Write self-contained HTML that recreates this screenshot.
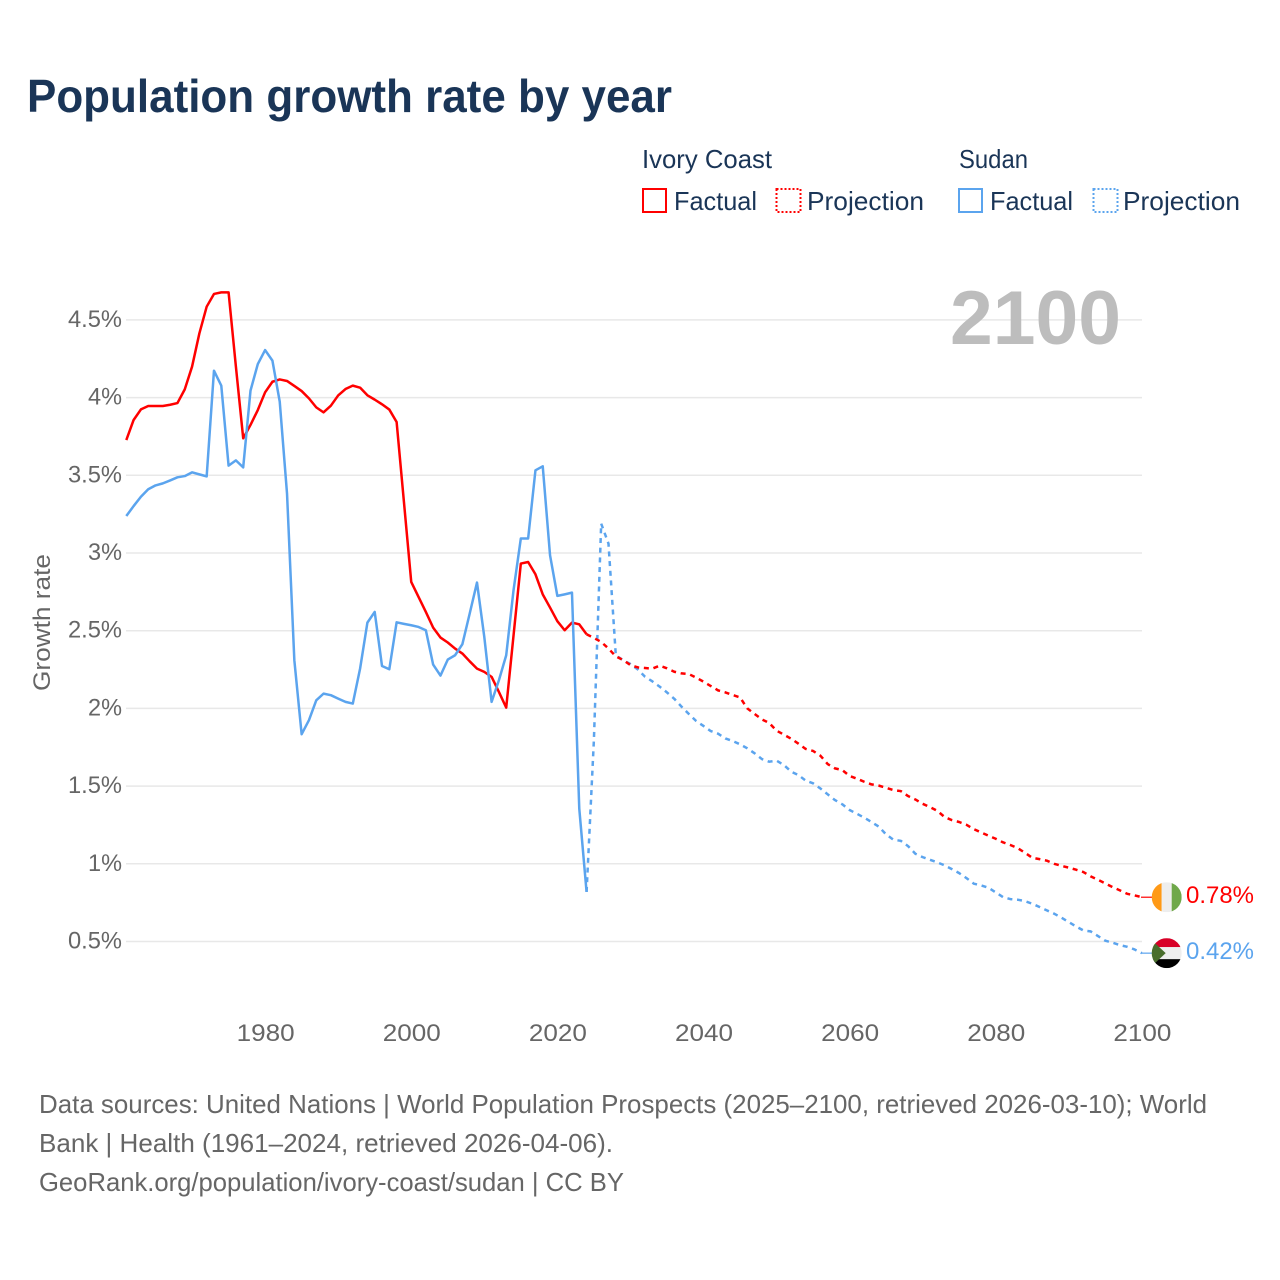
<!DOCTYPE html>
<html lang="en">
<head>
<meta charset="utf-8">
<title>Population growth rate by year</title>
<style>
html,body{margin:0;padding:0;background:#fff;}
svg{display:block;}
text{font-family:"Liberation Sans",sans-serif;}
</style>
</head>
<body>
<svg id="chart" xmlns="http://www.w3.org/2000/svg" width="1280" height="1280" viewBox="0 0 1280 1280">
  <rect width="1280" height="1280" fill="#ffffff"/>
  <text x="27" y="112" font-size="46" font-weight="700" fill="#1a3557" textLength="645" lengthAdjust="spacingAndGlyphs">Population growth rate by year</text>

  <g font-size="26" fill="#1a3557">
    <text x="642" y="168" textLength="130" lengthAdjust="spacingAndGlyphs">Ivory Coast</text>
    <text x="959" y="168" textLength="69" lengthAdjust="spacingAndGlyphs">Sudan</text>
    <g>
      <rect x="643" y="189" width="23" height="23" fill="none" stroke="#ff0000" stroke-width="2"/>
      <text x="674" y="210" textLength="83" lengthAdjust="spacingAndGlyphs">Factual</text>
    </g>
    <g>
      <rect x="776.5" y="189" width="24" height="23" fill="none" stroke="#ff0000" stroke-width="2" stroke-dasharray="2 2"/>
      <text x="807" y="210" textLength="117" lengthAdjust="spacingAndGlyphs">Projection</text>
    </g>
    <g>
      <rect x="959" y="189" width="23" height="23" fill="none" stroke="#5ba4ee" stroke-width="2"/>
      <text x="990" y="210" textLength="83" lengthAdjust="spacingAndGlyphs">Factual</text>
    </g>
    <g>
      <rect x="1093.5" y="189" width="24" height="23" fill="none" stroke="#5ba4ee" stroke-width="2" stroke-dasharray="2 2"/>
      <text x="1123" y="210" textLength="117" lengthAdjust="spacingAndGlyphs">Projection</text>
    </g>
  </g>

  <g id="grid"></g>
  <text x="950" y="344" font-size="76" font-weight="700" fill="#bdbdbd" textLength="171" lengthAdjust="spacingAndGlyphs">2100</text>
  <g id="yticks" font-size="24" fill="#666666"></g>
  <g id="xticks" font-size="24" fill="#666666"></g>
  <text transform="translate(50,622.5) rotate(-90)" text-anchor="middle" font-size="24" fill="#666666" textLength="137" lengthAdjust="spacingAndGlyphs">Growth rate</text>
  <g id="series"></g>
  <g id="endmarks"></g>

  <g font-size="26" fill="#666666">
    <text x="39" y="1113" textLength="1168" lengthAdjust="spacingAndGlyphs">Data sources: United Nations | World Population Prospects (2025–2100, retrieved 2026-03-10); World</text>
    <text x="39" y="1152" textLength="574" lengthAdjust="spacingAndGlyphs">Bank | Health (1961–2024, retrieved 2026-04-06).</text>
    <text x="39" y="1191" textLength="585" lengthAdjust="spacingAndGlyphs">GeoRank.org/population/ivory-coast/sudan | CC BY</text>
  </g>
</svg>

<script>
const xTicks = [1980, 2000, 2020, 2040, 2060, 2080, 2100];
const yTicks = [0.5, 1, 1.5, 2, 2.5, 3, 3.5, 4, 4.5];
const yTickLabels = ["0.5%", "1%", "1.5%", "2%", "2.5%", "3%", "3.5%", "4%", "4.5%"];
const firstFactualYear = 1961;
const firstProjectionYear = 2024;
const ivoryFactual = [
  3.727, 3.856, 3.924, 3.946, 3.946, 3.946, 3.954, 3.965, 4.053, 4.199,
  4.413, 4.585, 4.667, 4.677, 4.677, 4.2, 3.738, 3.824, 3.92, 4.034,
  4.102, 4.117, 4.107, 4.075, 4.042, 3.995, 3.937, 3.905, 3.948, 4.014,
  4.055, 4.077, 4.064, 4.015, 3.987, 3.957, 3.923, 3.843, 3.329, 2.814,
  2.717, 2.621, 2.52, 2.456, 2.424, 2.385, 2.353, 2.303, 2.256, 2.235,
  2.203, 2.106, 2.005, 2.468, 2.932, 2.942, 2.863, 2.734, 2.649, 2.561,
  2.503, 2.552, 2.541, 2.477
];
const sudanFactual = [
  3.238, 3.302, 3.362, 3.41, 3.435, 3.448, 3.467, 3.487, 3.495, 3.519,
  3.506, 3.493, 4.173, 4.077, 3.562, 3.596, 3.551, 4.045, 4.216, 4.306,
  4.238, 3.974, 3.382, 2.31, 1.834, 1.924, 2.052, 2.095, 2.085, 2.063,
  2.042, 2.031, 2.256, 2.552, 2.621, 2.273, 2.252, 2.554, 2.544, 2.535,
  2.524, 2.503, 2.282, 2.211, 2.314, 2.342, 2.413, 2.61, 2.81, 2.46,
  2.042, 2.181, 2.342, 2.76, 3.093, 3.093, 3.532, 3.558, 2.985, 2.724,
  2.734, 2.745, 1.355, 0.819
];
const ivoryProjection = [
  2.477, 2.453, 2.428, 2.385, 2.335, 2.311, 2.279, 2.264, 2.26, 2.256,
  2.275, 2.258, 2.236, 2.225, 2.221, 2.198, 2.172, 2.144, 2.116, 2.103,
  2.086, 2.071, 2.0, 1.964, 1.929, 1.906, 1.857, 1.831, 1.805, 1.773,
  1.739, 1.726, 1.696, 1.642, 1.614, 1.603, 1.565, 1.548, 1.528, 1.511,
  1.503, 1.489, 1.474, 1.468, 1.436, 1.414, 1.386, 1.365, 1.341, 1.301,
  1.281, 1.269, 1.251, 1.223, 1.202, 1.181, 1.161, 1.138, 1.121, 1.101,
  1.071, 1.039, 1.03, 1.02, 1.0, 0.987, 0.975, 0.962, 0.947, 0.919,
  0.897, 0.874, 0.85, 0.829, 0.807, 0.797, 0.785
];
const sudanProjection = [
  0.819, 1.795, 3.189, 3.06, 2.342, 2.31, 2.286, 2.251, 2.204, 2.174,
  2.14, 2.103, 2.062, 2.011, 1.964, 1.919, 1.887, 1.854, 1.837, 1.807,
  1.79, 1.769, 1.743, 1.711, 1.674, 1.657, 1.664, 1.636, 1.593, 1.571,
  1.535, 1.518, 1.485, 1.447, 1.41, 1.383, 1.346, 1.322, 1.297, 1.269,
  1.239, 1.189, 1.155, 1.148, 1.114, 1.065, 1.043, 1.026, 1.009, 0.99,
  0.966, 0.94, 0.908, 0.872, 0.861, 0.846, 0.816, 0.786, 0.773, 0.769,
  0.76, 0.743, 0.722, 0.7, 0.679, 0.653, 0.625, 0.597, 0.571, 0.565,
  0.535, 0.505, 0.492, 0.477, 0.466, 0.449, 0.425
];
const endLabels = ["0.78%", "0.42%"];

const SVG_NS = "http://www.w3.org/2000/svg";
const RED = "#ff0000";
const BLUE = "#5ba4ee";
function xScale(year) { return 126.3 + (year - 1961) * 7.306; }
function yScale(v) { return 941.5 - (v - 0.5) * 155.4; }
function make(tag, attrs, parent) {
  const el = document.createElementNS(SVG_NS, tag);
  for (const k in attrs) el.setAttribute(k, attrs[k]);
  parent.appendChild(el);
  return el;
}
function pathFor(values, startYear) {
  return values.map(function (v, i) {
    return (i ? "L" : "M") + xScale(startYear + i).toFixed(2) + " " + yScale(v).toFixed(2);
  }).join(" ");
}

const grid = document.getElementById("grid");
const yt = document.getElementById("yticks");
const xt = document.getElementById("xticks");
const series = document.getElementById("series");
const endmarks = document.getElementById("endmarks");

yTicks.forEach(function (v, i) {
  const line = make("line", {
    x1: 126, x2: 1142, y1: yScale(v), y2: yScale(v),
    stroke: "#e8e8e8", "stroke-width": 1.5
  }, grid);
  
  
  const label = make("text", {
    x: 122, y: yScale(v) + 7, "text-anchor": "end",
    textLength: yTickLabels[i].length === 2 ? 34 : 54,
    lengthAdjust: "spacingAndGlyphs"
  }, yt);
  label.textContent = yTickLabels[i];
  
  
});

xTicks.forEach(function (year) {
  const label = make("text", {
    x: xScale(year) + 0.5, y: 1041, "text-anchor": "middle",
    textLength: 58, lengthAdjust: "spacingAndGlyphs"
  }, xt);
  label.textContent = String(year);
  
  
});

const sudanProjectionLine = make("path", {
  d: pathFor(sudanProjection, firstProjectionYear), fill: "none", stroke: BLUE,
  "stroke-width": 2.5, "stroke-dasharray": "5 4.7", "stroke-linejoin": "round"
}, series);



const ivoryProjectionLine = make("path", {
  d: pathFor(ivoryProjection, firstProjectionYear), fill: "none", stroke: RED,
  "stroke-width": 2.5, "stroke-dasharray": "5 4.7", "stroke-linejoin": "round"
}, series);



const ivoryFactualLine = make("path", {
  d: pathFor(ivoryFactual, firstFactualYear), fill: "none", stroke: RED,
  "stroke-width": 2.5, "stroke-linejoin": "round"
}, series);



const sudanFactualLine = make("path", {
  d: pathFor(sudanFactual, firstFactualYear), fill: "none", stroke: BLUE,
  "stroke-width": 2.5, "stroke-linejoin": "round"
}, series);



/* End-of-line leaders, flags and value labels follow the last data value */
const ivoryEndY = yScale(ivoryProjection[ivoryProjection.length - 1]);
const sudanEndY = yScale(sudanProjection[sudanProjection.length - 1]);
const flagX = 1166.7;

const ivoryLeader = make("line", { x1: 1141, x2: 1153, y1: ivoryEndY, y2: ivoryEndY, stroke: RED, "stroke-width": 1.2 }, endmarks);


const sudanLeader = make("line", { x1: 1141, x2: 1153, y1: sudanEndY, y2: sudanEndY, stroke: BLUE, "stroke-width": 1.2 }, endmarks);



const defs = make("defs", {}, endmarks);
const ivoryClip = make("clipPath", { id: "clipIvory" }, defs);
make("circle", { cx: flagX, cy: ivoryEndY, r: 15 }, ivoryClip);
const sudanClip = make("clipPath", { id: "clipSudan" }, defs);
make("circle", { cx: flagX, cy: sudanEndY, r: 15 }, sudanClip);

const ivoryFlag = make("g", { "clip-path": "url(#clipIvory)" }, endmarks);


make("rect", { x: flagX - 15, y: ivoryEndY - 15, width: 10, height: 30, fill: "#ff9a17" }, ivoryFlag);
make("rect", { x: flagX - 5, y: ivoryEndY - 15, width: 10, height: 30, fill: "#eeeeee" }, ivoryFlag);
make("rect", { x: flagX + 5, y: ivoryEndY - 15, width: 10, height: 30, fill: "#6fa84a" }, ivoryFlag);

const sudanFlag = make("g", { "clip-path": "url(#clipSudan)" }, endmarks);


make("rect", { x: flagX - 15, y: sudanEndY - 15, width: 30, height: 9, fill: "#d80027" }, sudanFlag);
make("rect", { x: flagX - 15, y: sudanEndY - 6, width: 30, height: 12, fill: "#eeeeee" }, sudanFlag);
make("rect", { x: flagX - 15, y: sudanEndY + 6, width: 30, height: 9, fill: "#000000" }, sudanFlag);
make("polygon", {
  points: (flagX - 16) + "," + (sudanEndY - 14) + " " + (flagX - 1) + "," + sudanEndY + " " + (flagX - 16) + "," + (sudanEndY + 14),
  fill: "#496e2d"
}, sudanFlag);

const ivoryValue = make("text", { x: 1186, y: ivoryEndY + 6, "font-size": 24, fill: RED, textLength: 68, lengthAdjust: "spacingAndGlyphs" }, endmarks);
ivoryValue.textContent = endLabels[0];


const sudanValue = make("text", { x: 1186, y: sudanEndY + 6, "font-size": 24, fill: BLUE, textLength: 68, lengthAdjust: "spacingAndGlyphs" }, endmarks);
sudanValue.textContent = endLabels[1];


</script>
</body>
</html>
